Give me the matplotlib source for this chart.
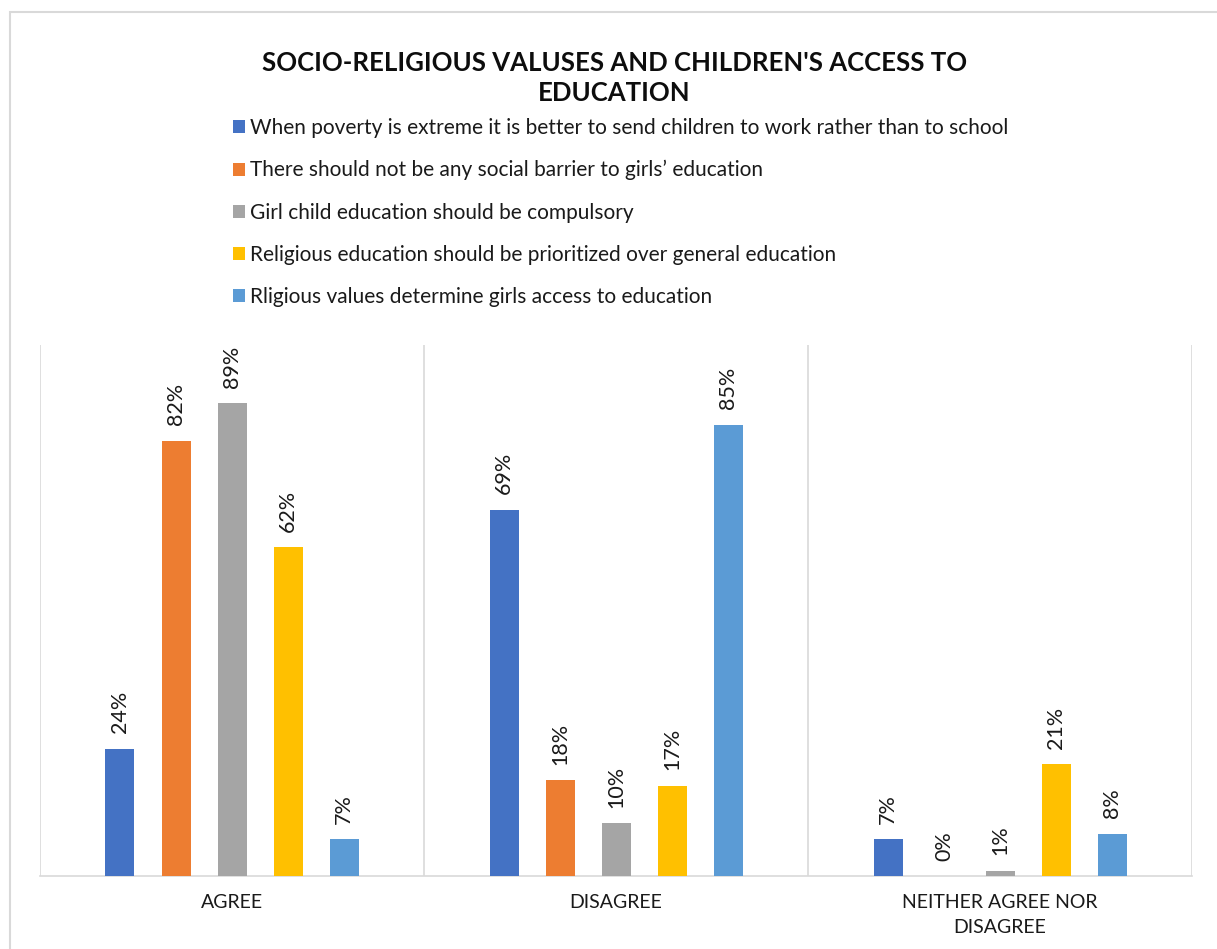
import matplotlib.pyplot as plt
from matplotlib.patches import Rectangle

categories = ['AGREE', 'DISAGREE', 'NEITHER AGREE NOR\nDISAGREE']
series = [
    'When poverty is extreme it is better to send children to work rather than to school',
    'There should not be any social barrier to girls\u2019 education',
    'Girl child education should be compulsory',
    'Religious education should be prioritized over general education',
    'Rligious values determine girls access to education',
]
values = [
    [24, 69, 7],
    [82, 18, 0],
    [89, 10, 1],
    [62, 17, 21],
    [7, 85, 8],
]
colors = ['#4472C4', '#ED7D31', '#A5A5A5', '#FFC000', '#5B9BD5']

plt.rcParams['font.family'] = ['Lato', 'DejaVu Sans']

W, H = 1217, 949
fig = plt.figure(figsize=(W / 100, H / 100), dpi=100)

# outer chart border (cut off on the right and bottom)
fig.patches.append(Rectangle((10 / W, -0.1), 1.2, 1 - 12 / H + 0.1,
                             transform=fig.transFigure, fill=False,
                             edgecolor='#d9d9d9', linewidth=1.5))

ax = fig.add_axes([40 / W, (H - 876) / H, 1152 / W, (876 - 345) / H])

step = 56 / 384
width = 29 / 384
x = range(len(categories))
for i, (name, vals, c) in enumerate(zip(series, values, colors)):
    pos = [k + (i - 2) * step for k in x]
    bars = ax.bar(pos, vals, width=width, color=c, label=name, zorder=3)
    ax.bar_label(bars, labels=['{}%'.format(v) for v in vals], rotation=90,
                 padding=11, fontsize=15.5, color='#1a1a1a')

ax.set_xlim(-0.5, 2.5)
ax.set_ylim(0, 100)
ax.set_yticks([])
ax.set_xticks(list(x))
ax.set_xticklabels(categories, fontsize=14, color='#1a1a1a', linespacing=1.55)
ax.set_xticks([-0.5, 0.5, 1.5, 2.5], minor=True)
ax.tick_params(axis='x', which='both', length=0, pad=13)
ax.grid(axis='x', which='minor', color='#d9d9d9', linewidth=1.2, zorder=0)
for s in ['top', 'right', 'left']:
    ax.spines[s].set_visible(False)
ax.spines['bottom'].set_color('#d9d9d9')
ax.spines['bottom'].set_linewidth(1.2)

fig.text(0.505, 1 - 78 / H,
         "SOCIO-RELIGIOUS VALUSES AND CHILDREN'S ACCESS TO\nEDUCATION",
         ha='center', va='center', fontsize=18.5, fontweight='bold',
         linespacing=1.3, color='#0d0d0d')

fig.legend(loc='upper left', bbox_to_anchor=(233 / W, 1 - 118 / H),
           frameon=False, fontsize=15, borderpad=0, borderaxespad=0,
           handlelength=0.58, handleheight=0.58, handletextpad=0.25,
           labelspacing=1.06, labelcolor='#1a1a1a')

fig.savefig('out.png', dpi=100)
